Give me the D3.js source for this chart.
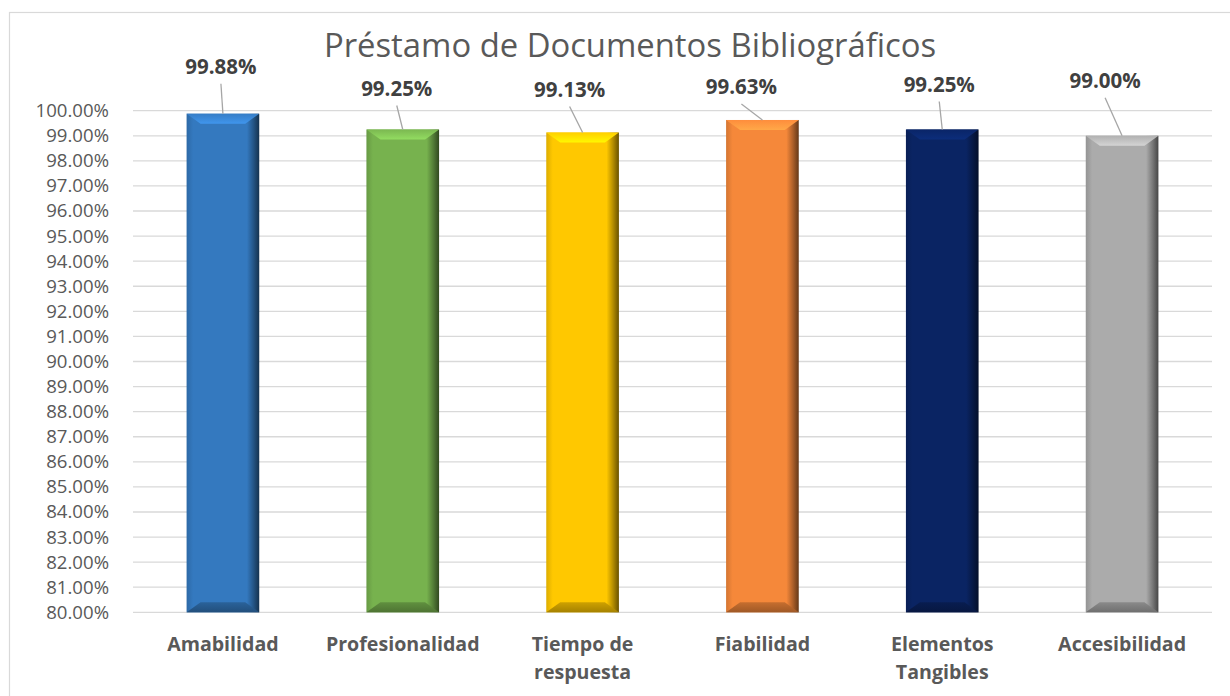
<!DOCTYPE html>
<html>
<head>
<meta charset="utf-8">
<script src="https://cdn.jsdelivr.net/npm/d3@7"></script>
<style>
  body { margin: 0; background: #fff; }
  svg { display: block; font-family: "Open Sans", sans-serif; }
</style>
</head>
<body>
<div id="chart"></div>
<script>

// chart data
var title = "Préstamo de Documentos Bibliográficos";
var categories = ["Amabilidad", "Profesionalidad", "Tiempo de respuesta", "Fiabilidad", "Elementos Tangibles", "Accesibilidad"];
var values = [99.88, 99.25, 99.13, 99.63, 99.25, 99.00];
var barColors = ["#3479bf", "#77b24e", "#ffc800", "#f5883a", "#0a2463", "#ababab"];
var yTicks = d3.range(80, 100.01, 1);

// where each data label sits relative to the top of its bar (leader lines)
var labelDx = [-2, -6, -13, -21, -3, -17];
var labelDy = [-40, -34, -36, -26, -38, -48];

var W = 1230, H = 696;
var m = {top: 110.7, right: 18, bottom: 83.7, left: 133};
var w = W - m.left - m.right,
    h = H - m.top - m.bottom;

var svg = d3.select("#chart").append("svg")
    .attr("width", W)
    .attr("height", H);

// chart area border (only left/top visible in the picture)
svg.append("rect")
    .attr("x", 9.5).attr("y", 12.5)
    .attr("width", 1240).attr("height", 700)
    .attr("fill", "none")
    .attr("stroke", "#d9d9d9")
    .attr("stroke-width", 1.2);

svg.append("text")
    .attr("x", 630).attr("y", 57)
    .attr("text-anchor", "middle")
    .attr("font-size", 32.8)
    .attr("fill", "#595959")
    .text(title);

var g = svg.append("g")
    .attr("transform", "translate(" + m.left + "," + m.top + ")");

var x = d3.scaleBand()
    .domain(categories)
    .range([0, w])
    .paddingInner(0.596)
    .paddingOuter(0.298);

var y = d3.scaleLinear()
    .domain([80, 100])
    .range([h, 0]);

// gridlines
g.append("g").selectAll("line")
    .data(yTicks)
    .enter().append("line")
    .attr("x1", 0).attr("x2", w)
    .attr("y1", function (d) { return y(d); })
    .attr("y2", function (d) { return y(d); })
    .attr("stroke", "#d9d9d9")
    .attr("stroke-width", 1.3);

// y axis
var yAxis = g.append("g")
    .call(d3.axisLeft(y).tickValues(yTicks).tickSize(0).tickPadding(24)
        .tickFormat(function (d) { return d3.format(".2f")(d) + "%"; }));
yAxis.select(".domain").remove();
yAxis.selectAll("text")
    .attr("font-family", "'Open Sans', sans-serif")
    .attr("font-size", 18.6)
    .attr("fill", "#595959");

// gradients for the bevelled bars
var defs = svg.append("defs");
barColors.forEach(function (col, i) {
    var c = d3.color(col);
    var grad = defs.append("linearGradient")
        .attr("id", "body" + i)
        .attr("x1", "0%").attr("x2", "100%").attr("y1", "0%").attr("y2", "0%");
    grad.append("stop").attr("offset", "0%").attr("stop-color", c.darker(0.4));
    grad.append("stop").attr("offset", "9%").attr("stop-color", c);
    grad.append("stop").attr("offset", "83%").attr("stop-color", c);
    grad.append("stop").attr("offset", "92%").attr("stop-color", c.darker(1.0));
    grad.append("stop").attr("offset", "100%").attr("stop-color", c.darker(2.5));

    var top = defs.append("linearGradient")
        .attr("id", "top" + i)
        .attr("x1", "0%").attr("x2", "0%").attr("y1", "0%").attr("y2", "100%");
    top.append("stop").attr("offset", "0%").attr("stop-color", c.brighter(0.1));
    top.append("stop").attr("offset", "100%").attr("stop-color", c.brighter(0.6));

    var bot = defs.append("linearGradient")
        .attr("id", "bot" + i)
        .attr("x1", "0%").attr("x2", "0%").attr("y1", "0%").attr("y2", "100%");
    bot.append("stop").attr("offset", "0%").attr("stop-color", c.darker(0.6));
    bot.append("stop").attr("offset", "100%").attr("stop-color", c.darker(1.2));
});

var bx = 14, by = 10;   // bevel size

var bars = g.selectAll(".bar")
    .data(values)
    .enter().append("g")
    .attr("class", "bar");

bars.append("rect")
    .attr("x", function (d, i) { return x(categories[i]); })
    .attr("y", function (d) { return y(d); })
    .attr("width", x.bandwidth())
    .attr("height", function (d) { return h - y(d); })
    .attr("fill", function (d, i) { return "url(#body" + i + ")"; });

// top bevel
bars.append("polygon")
    .attr("points", function (d, i) {
        var x0 = x(categories[i]), x1 = x0 + x.bandwidth(), t = y(d);
        return [[x0, t], [x1, t], [x1 - bx, t + by], [x0 + bx, t + by]].join(" ");
    })
    .attr("fill", function (d, i) { return "url(#top" + i + ")"; });

// bottom bevel
bars.append("polygon")
    .attr("points", function (d, i) {
        var x0 = x(categories[i]), x1 = x0 + x.bandwidth(), b = h;
        return [[x0, b], [x1, b], [x1 - bx, b - by], [x0 + bx, b - by]].join(" ");
    })
    .attr("fill", function (d, i) { return "url(#bot" + i + ")"; });

// leader lines
bars.append("line")
    .attr("x1", function (d, i) { return x(categories[i]) + x.bandwidth() / 2 + labelDx[i]; })
    .attr("y1", function (d, i) { return y(d) + labelDy[i] + 10; })
    .attr("x2", function (d, i) { return x(categories[i]) + x.bandwidth() / 2; })
    .attr("y2", function (d) { return y(d); })
    .attr("stroke", "#a6a6a6")
    .attr("stroke-width", 1.3);

// data labels
bars.append("text")
    .attr("x", function (d, i) { return x(categories[i]) + x.bandwidth() / 2 + labelDx[i]; })
    .attr("y", function (d, i) { return y(d) + labelDy[i]; })
    .attr("text-anchor", "middle")
    .attr("font-size", 20.5)
    .attr("font-weight", "bold")
    .attr("fill", "#404040")
    .text(function (d) { return d3.format(".2f")(d) + "%"; });

// category labels, wrapped to the band width
var cat = g.append("g").selectAll("text")
    .data(categories)
    .enter().append("text")
    .attr("x", function (d) { return x(d) + x.bandwidth() / 2; })
    .attr("y", h + 39)
    .attr("text-anchor", "middle")
    .attr("font-size", 19.6)
    .attr("font-weight", "bold")
    .attr("fill", "#595959");

cat.each(function (d) {
    var t = d3.select(this), words = d.split(" "), line = [];
    var tspan = t.append("tspan").attr("x", t.attr("x")).attr("dy", 0);
    words.forEach(function (word) {
        line.push(word);
        tspan.text(line.join(" "));
        if (tspan.node().getComputedTextLength() > x.step() - 2 && line.length > 1) {
            line.pop();
            tspan.text(line.join(" "));
            line = [word];
            tspan = t.append("tspan").attr("x", t.attr("x")).attr("dy", 28).text(word);
        }
    });
});

</script>
</body>
</html>
